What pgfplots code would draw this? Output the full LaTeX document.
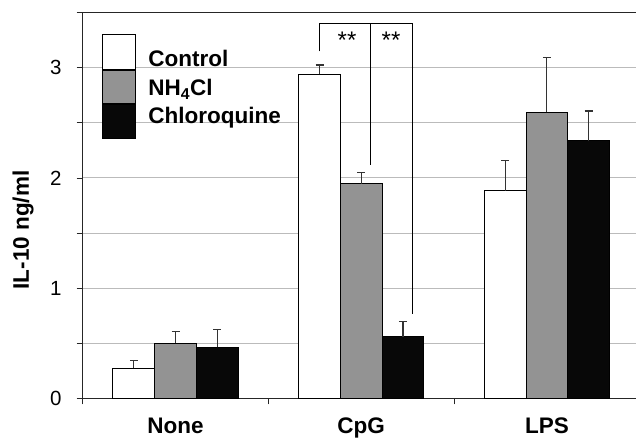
\documentclass[border=0pt]{standalone}
\usepackage{pgfplots}
\pgfplotsset{compat=1.18}
\usepackage{fontspec}
\setmainfont{Liberation Sans}
\definecolor{nhgray}{HTML}{939393}
\definecolor{cqblack}{HTML}{080808}
\definecolor{gridgray}{HTML}{BBBBBB}
\newcommand{\bigbold}{\fontsize{22.5bp}{27bp}\selectfont\bfseries}
\pgfplotsset{
  legA/.style={legend image code/.code={\draw[##1] (0bp,-3.3bp) rectangle (33bp,31.4bp);}},
  legB/.style={legend image code/.code={\draw[##1] (0bp,-7.7bp) rectangle (33bp,25bp);}},
  legC/.style={legend image code/.code={\draw[##1] (0bp,-15.6bp) rectangle (33bp,19bp);}},
}
\begin{document}
\begin{tikzpicture}
\begin{axis}[
  at={(82.7bp,41.7bp)}, anchor=south west,
  scale only axis, width=553.3bp, height=385.6bp,
  xmin=-0.5, xmax=2.48, ymin=0, ymax=3.5,
  axis x line*=bottom, axis y line*=left,
  axis line style={black!85, line width=1.1bp, -},
  ytick={0,1,2,3}, minor ytick={0.5,1.5,2.5,3.5},
  ymajorgrids, yminorgrids,
  major grid style={gridgray, line width=1bp},
  minor grid style={gridgray, line width=1bp},
  tick align=outside,
  major tick length=6bp, minor tick length=6bp,
  tick style={black!85, line width=0.9bp},
  /pgf/number format/assume math mode=true,
  yticklabel style={font=\fontsize{20.5bp}{24bp}\selectfont, anchor=east, inner sep=0pt, xshift=-15bp},
  xtick={-0.5,0.5,1.5}, xticklabels={},
  extra x ticks={0,1,2}, extra x tick labels={None,CpG,LPS},
  extra x tick style={major tick length=0pt, tick style={draw=none}, grid=none,
     xticklabel style={font=\bigbold, anchor=base, inner sep=0pt, yshift=-35bp}},
  ylabel={IL-10 ng/ml},
  ylabel style={at={(axis description cs:-0.1079,0.4367)}, anchor=center, font=\bigbold},
  legend style={at={(rel axis cs:0.0343,0.944)}, anchor=north west, draw=none, fill=none,
     inner sep=0pt, outer sep=0pt, row sep=0pt, column sep=12.7bp,
     font=\bigbold, cells={anchor=base west}, nodes={inner sep=0pt}},
  error bars/error bar style={black!80, line width=1.2bp},
  error bars/error mark options={black!80, rotate=90, mark size=4bp, line width=1.2bp},
]
\addplot[ybar, bar width=41.7bp, bar shift=0bp, fill=white, draw=black, line width=1bp, legA,
  error bars/.cd, y dir=plus, y explicit]
  coordinates {(-0.2246,0.272) +- (0,0.070) (0.7754,2.940) +- (0,0.085) (1.7754,1.882) +- (0,0.276)};
\addlegendentry{Control}
\addplot[ybar, bar width=41.7bp, bar shift=0bp, fill=nhgray, draw=black, line width=1bp, legB,
  error bars/.cd, y dir=plus, y explicit]
  coordinates {(0,0.499) +- (0,0.105) (1,1.946) +- (0,0.100) (2,2.596) +- (0,0.496)};
\addlegendentry{NH\textsubscript{4}Cl}
\addplot[ybar, bar width=41.7bp, bar shift=0bp, fill=cqblack, draw=black, line width=1bp, legC,
  error bars/.cd, y dir=plus, y explicit]
  coordinates {(0.2246,0.462) +- (0,0.160) (1.2246,0.559) +- (0,0.136) (2.2246,2.336) +- (0,0.271)};
\addlegendentry{Chloroquine}
\draw[black!85, line width=1.1bp] (rel axis cs:0,1) -- (rel axis cs:1,1);
\draw[black, line width=1.3bp] (axis cs:0.774,3.149) -- (axis cs:0.774,3.405) -- (axis cs:1.277,3.405) -- (axis cs:1.277,0.762);
\draw[black, line width=1.3bp] (axis cs:1.049,3.405) -- (axis cs:1.049,2.115);
\node[anchor=base, inner sep=0pt, font=\fontsize{24bp}{28bp}\selectfont] at (axis cs:0.9235,3.174) {**};
\node[anchor=base, inner sep=0pt, font=\fontsize{24bp}{28bp}\selectfont] at (axis cs:1.1605,3.174) {**};
\end{axis}
\pgfresetboundingbox
\path[use as bounding box] (0,0) rectangle (636bp,440bp);
\end{tikzpicture}
\end{document}
